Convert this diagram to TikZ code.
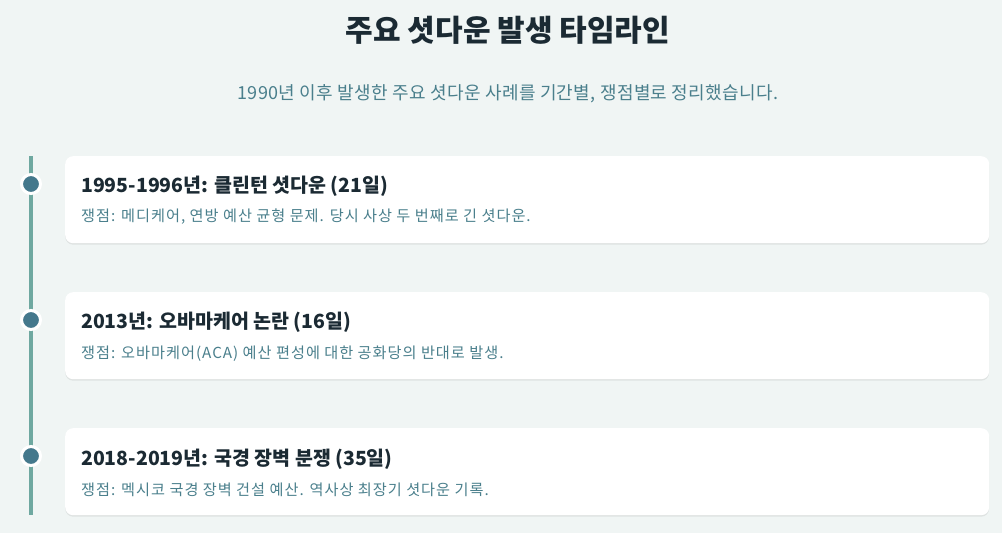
\documentclass[tikz,border=0pt]{standalone}
\usepackage{fontspec}
\setmainfont{Noto Sans CJK KR}
\usetikzlibrary{shadows}

\definecolor{bgcol}{HTML}{F0F5F4}
\definecolor{linecol}{HTML}{6FA8A0}
\definecolor{dotcol}{HTML}{44788C}
\definecolor{headcol}{HTML}{1B2A33}
\definecolor{desccol}{HTML}{4A7F8C}

\begin{document}
\begin{tikzpicture}[x=1pt,y=-1pt,
	card/.style={rectangle, fill=white, rounded corners=8pt, minimum width=924pt, minimum height=87pt, anchor=north west,
		drop shadow={shadow xshift=0pt, shadow yshift=-1.5pt, opacity=0.07, fill=black}},
	cardhead/.style={anchor=west, inner sep=0pt, text=headcol, font=\bfseries\fontsize{19.5}{23}\selectfont},
	carddesc/.style={anchor=west, inner sep=0pt, text=desccol, font=\fontsize{15.2}{18}\selectfont\addfontfeature{LetterSpace=6.5}},
	dot/.style={circle, fill=dotcol, draw=white, line width=3pt, minimum size=19pt, inner sep=0pt}]
	\fill[bgcol] (0,0) rectangle (1002,533);
	
	\node[text=headcol, font=\bfseries\fontsize{30}{36}\selectfont] (title) at (508,30) {주요 셧다운 발생 타임라인};
	\node[text=desccol, font=\fontsize{18}{22}\selectfont\addfontfeature{LetterSpace=2}] (subtitle) at (508,94) {1990년 이후 발생한 주요 셧다운 사례를 기간별, 쟁점별로 정리했습니다.};
	
	% timeline
	\coordinate (linetop) at (31,156);
	\coordinate (linebot) at (31,515);
	\draw[linecol, line width=4pt] (linetop) -- (linebot);
	
	\node[card] (card1) at (65,156) {};
	\node[card] (card2) at (65,292) {};
	\node[card] (card3) at (65,428) {};
	
	\node[dot] (dot1) at (31,184) {};
	\node[dot] (dot2) at (31,320) {};
	\node[dot] (dot3) at (31,456) {};
	
	\node[cardhead] (head1) at (81,186) {1995-1996년: 클린턴 셧다운 (21일)};
	\node[carddesc] (desc1) at (81,217) {쟁점: 메디케어, 연방 예산 균형 문제. 당시 사상 두 번째로 긴 셧다운.};
	\node[cardhead] (head2) at (81,322) {2013년: 오바마케어 논란 (16일)};
	\node[carddesc] (desc2) at (81,354) {쟁점: 오바마케어(ACA) 예산 편성에 대한 공화당의 반대로 발생.};
	\node[cardhead] (head3) at (81,459) {2018-2019년: 국경 장벽 분쟁 (35일)};
	\node[carddesc] (desc3) at (81,490) {쟁점: 멕시코 국경 장벽 건설 예산. 역사상 최장기 셧다운 기록.};
\end{tikzpicture}
\end{document}
